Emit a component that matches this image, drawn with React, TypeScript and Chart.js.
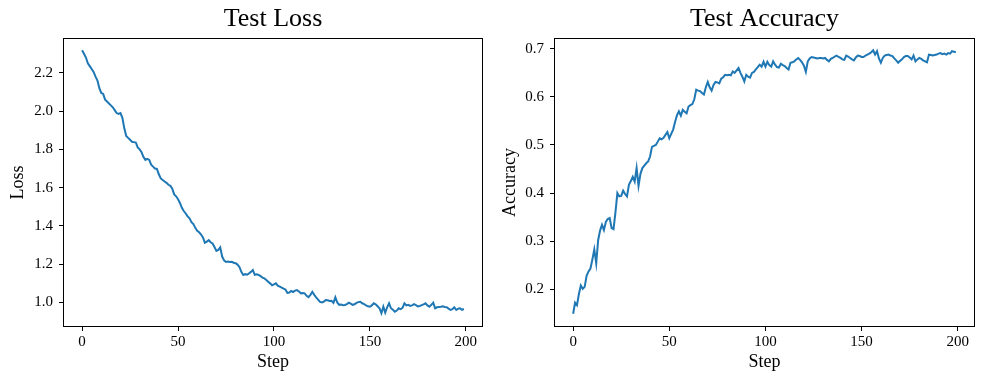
import React, { useEffect, useRef } from "react";
import { Chart, registerables } from "chart.js";

Chart.register(...registerables);

// ---- data ----
const lossValues: number[] = [
  2.318, 2.30, 2.28, 2.25, 2.235, 2.22, 2.205, 2.18, 2.16, 2.12,
  2.095, 2.09, 2.06, 2.05, 2.04, 2.03, 2.02, 2.005, 1.99, 1.985,
  1.99, 1.965, 1.91, 1.87, 1.86, 1.85, 1.84, 1.838, 1.836, 1.81,
  1.80, 1.785, 1.76, 1.745, 1.75, 1.745, 1.72, 1.71, 1.70, 1.698,
  1.67, 1.648, 1.64, 1.632, 1.625, 1.615, 1.61, 1.595, 1.565, 1.555,
  1.54, 1.52, 1.495, 1.478, 1.465, 1.45, 1.44, 1.42, 1.41, 1.39,
  1.375, 1.367, 1.355, 1.34, 1.312, 1.318, 1.326, 1.315, 1.308, 1.29,
  1.27, 1.275, 1.288, 1.24, 1.22, 1.212, 1.214, 1.212, 1.213, 1.208,
  1.205, 1.198, 1.186, 1.16, 1.144, 1.148, 1.145, 1.152, 1.16, 1.17,
  1.145, 1.147, 1.144, 1.138, 1.13, 1.126, 1.118, 1.108, 1.10, 1.09,
  1.095, 1.10, 1.088, 1.083, 1.078, 1.072, 1.068, 1.05, 1.052, 1.06,
  1.055, 1.062, 1.065, 1.058, 1.048, 1.05, 1.048, 1.035, 1.028, 1.04,
  1.056, 1.04, 1.027, 1.015, 1.003, 1.0, 1.005, 1.013, 1.012, 1.008,
  1.009, 0.998, 1.027, 1.0, 0.988, 0.99, 0.986, 0.987, 0.992, 0.999,
  0.994, 0.988, 0.991, 0.998, 1.002, 1.004, 0.996, 0.992, 0.985, 0.98,
  0.978, 0.985, 0.996, 0.99, 0.98, 0.97, 0.944, 0.978, 0.947, 0.975,
  0.996, 0.97, 0.962, 0.952, 0.958, 0.97, 0.965, 0.972, 0.996, 0.985,
  0.988, 0.982, 0.985, 0.991, 0.986, 0.98, 0.982, 0.986, 0.99, 0.996,
  0.985, 0.978, 0.988, 0.999, 0.97, 0.975, 0.977, 0.978, 0.98, 0.977,
  0.975, 0.968, 0.961, 0.965, 0.975, 0.961, 0.968, 0.97, 0.962, 0.966,
];

const accValues: number[] = [
  0.149, 0.172, 0.167, 0.19, 0.208, 0.201, 0.205, 0.228, 0.237, 0.243,
  0.262, 0.283, 0.254, 0.302, 0.322, 0.334, 0.323, 0.34, 0.346, 0.348,
  0.327, 0.325, 0.36, 0.40, 0.393, 0.394, 0.405, 0.398, 0.393, 0.417,
  0.425, 0.434, 0.424, 0.452, 0.415, 0.44, 0.452, 0.457, 0.462, 0.466,
  0.476, 0.496, 0.498, 0.50, 0.507, 0.514, 0.512, 0.515, 0.521, 0.527,
  0.514, 0.523, 0.532, 0.548, 0.562, 0.570, 0.561, 0.573, 0.569, 0.566,
  0.580, 0.583, 0.585, 0.595, 0.615, 0.613, 0.612, 0.608, 0.605, 0.62,
  0.631, 0.62, 0.613, 0.625, 0.631, 0.63, 0.628, 0.638, 0.641, 0.646,
  0.645, 0.646, 0.645, 0.653, 0.65, 0.655, 0.660, 0.65, 0.642, 0.632,
  0.646, 0.642, 0.640, 0.650, 0.652, 0.657, 0.662, 0.667, 0.663, 0.673,
  0.663, 0.673, 0.666, 0.663, 0.674, 0.667, 0.662, 0.661, 0.669, 0.666,
  0.664, 0.66, 0.657, 0.671, 0.672, 0.674, 0.678, 0.681, 0.677, 0.672,
  0.665, 0.652, 0.674, 0.68, 0.683, 0.682, 0.681, 0.68, 0.681, 0.681,
  0.68, 0.681, 0.677, 0.674, 0.679, 0.681, 0.684, 0.686, 0.683, 0.681,
  0.678, 0.677, 0.686, 0.684, 0.681, 0.678, 0.676, 0.682, 0.686, 0.685,
  0.683, 0.683, 0.686, 0.688, 0.69, 0.693, 0.697, 0.688, 0.695, 0.68,
  0.671, 0.681, 0.686, 0.687, 0.688, 0.686, 0.685, 0.68, 0.676, 0.671,
  0.675, 0.678, 0.683, 0.685, 0.685, 0.682, 0.678, 0.686, 0.674, 0.678,
  0.681, 0.679, 0.676, 0.674, 0.672, 0.688, 0.687, 0.686, 0.687, 0.688,
  0.69, 0.691, 0.689, 0.690, 0.688, 0.691, 0.690, 0.695, 0.694, 0.693,
];

const stepTicks: number[] = [0, 50, 100, 150, 200];
const lossTicks: number[] = [1.0, 1.2, 1.4, 1.6, 1.8, 2.0, 2.2];
const accTicks: number[] = [0.2, 0.3, 0.4, 0.5, 0.6, 0.7];

const FONT = "'Liberation Serif', 'DejaVu Serif', serif";
const LINE_COLOR = "#1f77b4";

const frame = {
  id: "frame",
  afterDatasetsDraw(chart: any) {
    const { ctx, chartArea } = chart;
    ctx.save();
    ctx.strokeStyle = "#000";
    ctx.lineWidth = 1;
    ctx.strokeRect(
      Math.round(chartArea.left) + 0.5,
      Math.round(chartArea.top) + 0.5,
      Math.round(chartArea.right - chartArea.left) - 1,
      Math.round(chartArea.bottom - chartArea.top) - 1
    );
    ctx.restore();
  },
};

function makeConfig(
  title: string,
  yTitle: string,
  values: number[],
  yTicks: number[],
  yMin: number,
  yMax: number,
  yAxisWidth: number
): any {
  const points = values.map((v, i) => ({ x: i, y: v }));
  const tickFont = { family: FONT, size: 15 };
  const grid = {
    display: true,
    drawOnChartArea: false,
    drawTicks: true,
    tickLength: 4,
    tickColor: "#000",
    tickWidth: 1,
  };
  return {
    type: "line",
    data: {
      datasets: [
        {
          data: points,
          borderColor: LINE_COLOR,
          borderWidth: 2,
          pointRadius: 0,
          tension: 0,
          fill: false,
        },
      ],
    },
    plugins: [frame],
    options: {
      responsive: false,
      animation: false,
      events: [],
      layout: { padding: { left: 0, right: 9, top: 0, bottom: 0 } },
      plugins: {
        legend: { display: false },
        tooltip: { enabled: false },
        title: {
          display: true,
          text: title,
          fullSize: false,
          color: "#000",
          font: { family: FONT, size: 26, weight: "normal", lineHeight: 1.2 },
          padding: { top: 3.4, bottom: 3.4 },
        },
      },
      scales: {
        x: {
          type: "linear",
          min: -9.95,
          max: 208.95,
          afterBuildTicks: (s: any) => {
            s.ticks = stepTicks.map((value) => ({ value }));
          },
          afterFit: (s: any) => {
            s.height = 57;
          },
          grid,
          border: { display: false },
          ticks: {
            color: "#000",
            font: tickFont,
            padding: 2,
            maxRotation: 0,
            autoSkip: false,
            callback: (v: number) => String(v),
          },
          title: {
            display: true,
            text: "Step",
            color: "#000",
            font: { family: FONT, size: 18, lineHeight: 1.2 },
            padding: { top: 0, bottom: 11 },
          },
        },
        y: {
          type: "linear",
          min: yMin,
          max: yMax,
          afterBuildTicks: (s: any) => {
            s.ticks = yTicks.map((value) => ({ value }));
          },
          afterFit: (s: any) => {
            s.width = yAxisWidth;
          },
          grid,
          border: { display: false },
          ticks: {
            color: "#000",
            font: tickFont,
            padding: 6,
            autoSkip: false,
            callback: (v: number) => Number(v).toFixed(1),
          },
          title: {
            display: true,
            text: yTitle,
            color: "#000",
            font: { family: FONT, size: 18, lineHeight: 1.2 },
            padding: { top: 7, bottom: 0 },
          },
        },
      },
    },
  };
}

function Panel(props: { left: number; config: any }) {
  const ref = useRef<HTMLCanvasElement | null>(null);
  useEffect(() => {
    if (!ref.current) return;
    const chart = new Chart(ref.current, props.config);
    return () => chart.destroy();
  }, []);
  return (
    <div style={{ position: "absolute", left: props.left, top: 0, width: 492, height: 384 }}>
      <canvas ref={ref} width={492} height={384} style={{ display: "block" }} />
    </div>
  );
}

export default function App() {
  const lossConfig = makeConfig("Test Loss", "Loss", lossValues, lossTicks, 0.872, 2.382, 63);
  const accConfig = makeConfig("Test Accuracy", "Accuracy", accValues, accTicks, 0.1215, 0.7225, 62);
  return (
    <div style={{ position: "absolute", left: 0, top: 0, width: 984, height: 384, background: "#fff" }}>
      <Panel left={0} config={lossConfig} />
      <Panel left={492} config={accConfig} />
    </div>
  );
}
